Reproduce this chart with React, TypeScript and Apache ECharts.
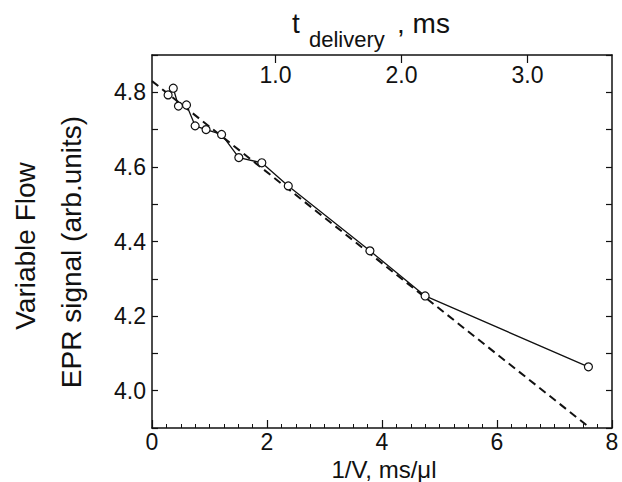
import React, { useEffect, useRef } from "react";
import * as echarts from "echarts";

// 1/V (ms/µl) and EPR signal of the measured points
const invV = [0.28, 0.37, 0.46, 0.6, 0.75, 0.94, 1.21, 1.51, 1.91, 2.37, 3.79, 4.75, 7.59];
const signal = [4.793, 4.811, 4.763, 4.766, 4.71, 4.7, 4.687, 4.625, 4.611, 4.549, 4.375, 4.254, 4.064];
// linear fit (dashed)
const fitX = [0, 7.62];
const fitY = [4.83, 3.9];
// top axis (t_delivery, ms)
const topTicks = [1, 2, 3];

const FONT = "'Liberation Sans', Arial, Helvetica, sans-serif";

export default function App() {
  const ref = useRef<HTMLDivElement>(null);
  useEffect(() => {
    if (!ref.current) return;
    const chart = echarts.init(ref.current, undefined, { renderer: "svg" });
    const black = "#111";
    const option: any = {
      animation: false,
      backgroundColor: "#fff",
      textStyle: { fontFamily: FONT },
      grid: { left: 152, right: 10, top: 55, bottom: 54, containLabel: false, outerBoundsMode: "none" },
      xAxis: [
        {
          type: "value",
          position: "bottom",
          min: 0,
          max: 8,
          interval: 2,
          axisLine: { show: true, lineStyle: { color: black, width: 1.5 } },
          axisTick: { show: true, inside: true, length: 8, lineStyle: { color: black, width: 1.2 } },
          minorTick: { show: true, splitNumber: 8, length: 4, lineStyle: { color: black, width: 1 } },
          splitLine: { show: false },
          axisLabel: { color: black, fontSize: 23, margin: 2, lineHeight: 24, fontFamily: FONT },
        },
        {
          type: "value",
          position: "top",
          min: 0.02,
          max: 3.67,
          axisLine: { show: true, lineStyle: { color: black, width: 1.5 } },
          axisTick: { show: true, inside: true, length: 8, customValues: topTicks, lineStyle: { color: black, width: 1.2 } },
          splitLine: { show: false },
          axisLabel: {
            inside: true,
            customValues: topTicks,
            color: black,
            fontSize: 23,
            margin: 8,
            fontFamily: FONT,
            formatter: (v: number) => v.toFixed(1),
          },
        },
      ],
      yAxis: [
        {
          type: "value",
          position: "left",
          min: 3.9,
          max: 4.9,
          interval: 0.1,
          axisLine: { show: true, lineStyle: { color: black, width: 1.5 } },
          axisTick: { show: true, inside: true, length: 6, lineStyle: { color: black, width: 1.2 } },
          splitLine: { show: false },
          axisLabel: {
            color: black,
            fontSize: 23,
            margin: 6,
            fontFamily: FONT,
            formatter: (v: number) => {
              const k = Math.round(v * 10);
              return k % 2 === 0 && k < 49 ? (k / 10).toFixed(1) : "";
            },
          },
        },
        {
          type: "value",
          position: "right",
          min: 3.9,
          max: 4.9,
          interval: 0.1,
          axisLine: { show: true, lineStyle: { color: black, width: 1.5 } },
          axisTick: { show: true, inside: true, length: 6, lineStyle: { color: black, width: 1.2 } },
          splitLine: { show: false },
          axisLabel: { show: false },
        },
      ],
      series: [
        {
          type: "line",
          xAxisIndex: 0,
          yAxisIndex: 0,
          data: fitX.map((x, i) => [x, fitY[i]]),
          symbol: "none",
          lineStyle: { color: black, width: 2, type: [8, 5] },
          z: 2,
        },
        {
          type: "line",
          xAxisIndex: 0,
          yAxisIndex: 0,
          data: invV.map((x, i) => [x, signal[i]]),
          symbol: "circle",
          symbolSize: 8,
          lineStyle: { color: black, width: 1.3 },
          itemStyle: { color: "#fff", borderColor: black, borderWidth: 1.2 },
          z: 3,
        },
      ],
      graphic: [
        {
          type: "text",
          x: 384,
          y: 469,
          style: { text: "1/V, ms/μl", font: `24px ${FONT}`, fill: black, align: "center", verticalAlign: "middle" },
        },
        {
          type: "text",
          rotation: Math.PI / 2,
          x: 25,
          y: 246,
          style: { text: "Variable Flow", font: `28px ${FONT}`, fill: black, align: "center", verticalAlign: "middle" },
        },
        {
          type: "text",
          rotation: Math.PI / 2,
          x: 71,
          y: 252,
          style: { text: "EPR signal (arb.units)", font: `28px ${FONT}`, fill: black, align: "center", verticalAlign: "middle" },
        },
        {
          type: "text",
          x: 292,
          y: 23,
          style: { text: "t", font: `28px ${FONT}`, fill: black, align: "left", verticalAlign: "middle" },
        },
        {
          type: "text",
          x: 309,
          y: 39,
          style: { text: "delivery", font: `22px ${FONT}`, fill: black, align: "left", verticalAlign: "middle" },
        },
        {
          type: "text",
          x: 397,
          y: 23,
          style: { text: ", ms", font: `28px ${FONT}`, fill: black, align: "left", verticalAlign: "middle" },
        },
      ],
    };
    chart.setOption(option);
    return () => chart.dispose();
  }, []);
  return (
    <div
      ref={ref}
      style={{ position: "fixed", left: 0, top: 0, width: 622, height: 482, background: "#fff" }}
    />
  );
}
